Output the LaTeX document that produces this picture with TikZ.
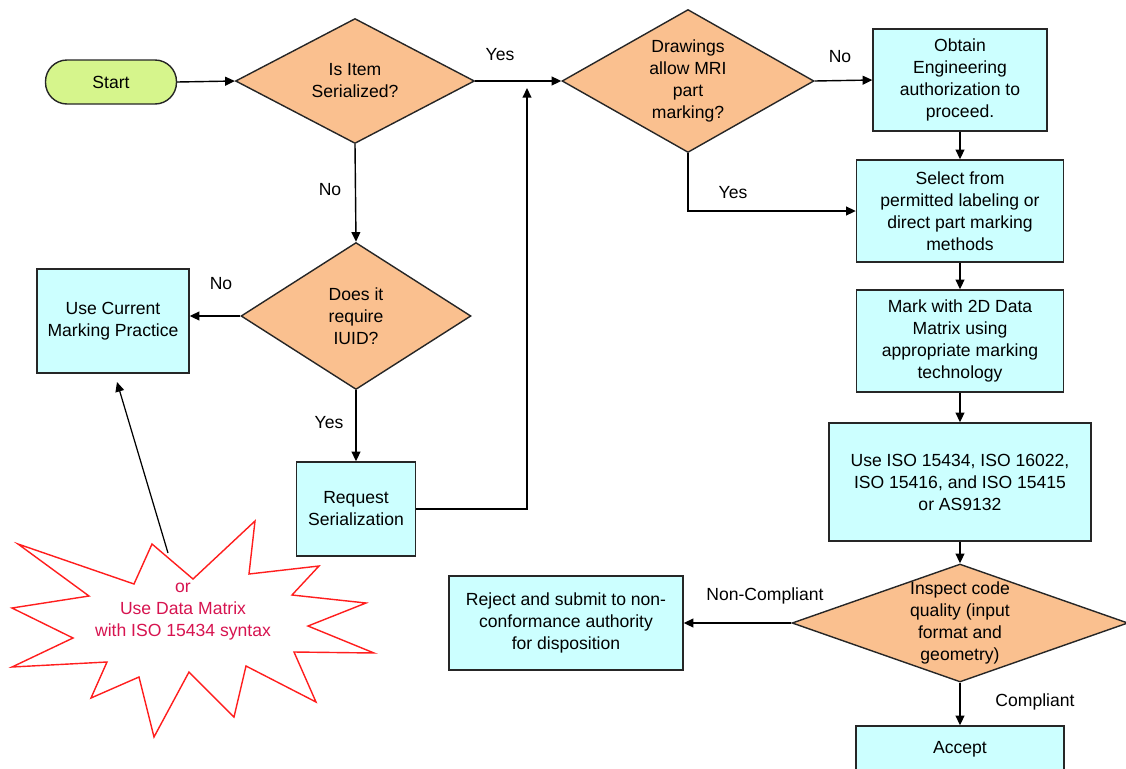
\documentclass[tikz,border=0pt]{standalone}
\usepackage{fontspec}
\setmainfont{Liberation Sans}
\usepackage{tikz}
\usetikzlibrary{shapes.geometric,arrows.meta}
\definecolor{decfill}{RGB}{250,192,143}
\definecolor{boxfill}{RGB}{204,255,255}
\definecolor{startfill}{RGB}{214,245,140}
\definecolor{burstred}{RGB}{255,30,30}
\definecolor{bursttext}{RGB}{215,20,80}
\tikzset{
    flow/.style={draw=black!85, line width=0.8pt, font=\fontsize{10}{12.5}\selectfont, align=center},
    proc/.style={flow, rectangle, fill=boxfill, inner sep=1pt},
    dec/.style={flow, diamond, aspect=1.8, fill=decfill, inner sep=0pt},
    term/.style={flow, rectangle, rounded corners=0.43cm, fill=startfill},
    arr/.style={line width=0.8pt, -{Triangle[length=5.5pt,width=5pt]}},
    lbl/.style={font=\fontsize{10}{12.5}\selectfont, align=center},
}

\begin{document}
\begin{tikzpicture}[x=0.02cm, y=-0.02cm]
    \useasboundingbox (0,0) rectangle (1126,768);

    \node[term, minimum width=2.62cm, minimum height=0.88cm] (start) at (111,82) {Start};
    \node[dec, minimum width=4.78cm, minimum height=2.5cm] (serial) at (355,81) {Is Item\\Serialized?};
    \node[dec, minimum width=4.6cm, minimum height=2.94cm] (iuid) at (356,316) {Does it\\require\\IUID?};
    \node[proc, minimum width=3.04cm, minimum height=2.08cm] (current) at (113,321) {Use Current\\Marking Practice};
    \node[proc, minimum width=2.38cm, minimum height=1.88cm] (request) at (356,509) {Request\\Serialization};
    \node[dec, minimum width=5.04cm, minimum height=2.86cm] (drawings) at (688,81) {Drawings\\allow MRI\\part\\marking?};
    \node[proc, minimum width=3.48cm, minimum height=2.04cm] (obtain) at (960,80) {Obtain\\Engineering\\authorization to\\proceed.};
    \node[proc, minimum width=4.14cm, minimum height=2.04cm] (select) at (960,211) {Select from\\permitted labeling or\\direct part marking\\methods};
    \node[proc, minimum width=4.14cm, minimum height=2.04cm] (mark) at (960,341) {Mark with 2D Data\\Matrix using\\appropriate marking\\technology};
    \node[proc, minimum width=5.24cm, minimum height=2.36cm] (iso) at (960,482) {Use ISO 15434, ISO 16022,\\ISO 15416, and ISO 15415\\or AS9132};
    \node[dec, minimum width=6.72cm, minimum height=2.36cm,
          label={[lbl]center:Inspect code\\quality (input\\format and\\geometry)}] (check) at (960,623) {};
    \node[proc, minimum width=4.68cm, minimum height=1.88cm] (reject) at (566,623) {Reject and submit to non-\\conformance authority\\for disposition};
    \node[proc, minimum width=4.16cm, minimum height=0.92cm] (accept) at (960,749) {Accept};

    \draw[burstred, fill=white, line width=0.8pt]
        (18,544) -- (134,584) -- (152,544) -- (193,579) -- (255,521) -- (249,574)
        -- (319,566) -- (292,595) -- (366,603) -- (308,626) -- (374,653) -- (294,652)
        -- (316,702) -- (246,666) -- (234,717) -- (189,672) -- (154,737) -- (139,677)
        -- (91,698) -- (107,662) -- (12,667) -- (73,638) -- (12,608) -- (89,596) -- cycle;
    \node[lbl, text=bursttext] (burst) at (183,612) {or\\Use Data Matrix\\with ISO 15434 syntax};

    \coordinate (returnTip) at (527,88);
    \coordinate (burstTop) at (168,553);
    \coordinate (currentTip) at (117,382);

    \draw[arr] (start.east) -- (serial.west);
    \draw[arr] (serial.east) -- (drawings.west);
    \draw[arr] (serial.south) -- (iuid.north);
    \draw[arr] (iuid.west) -- (iuid.west -| current.east);
    \draw[arr] (iuid.south) -- (request.north);
    \draw[arr] (request.east) -| (returnTip);
    \draw[arr] (drawings.east) -- (obtain.west);
    \draw[arr] (drawings.south) |- (select.west);
    \draw[arr] (obtain.south) -- (select.north);
    \draw[arr] (select.south) -- (mark.north);
    \draw[arr] (mark.south) -- (iso.north);
    \draw[arr] (iso.south) -- (check.north);
    \draw[arr] (check.west) -- (reject.east);
    \draw[arr] (check.south) -- (accept.north);
    \draw[arr, line width=0.7pt] (burstTop) -- (currentTip);

    \node[lbl] (yesSerial) at (500,55) {Yes};
    \node[lbl] (noSerial) at (330,190) {No};
    \node[lbl] (noIuid) at (221,284) {No};
    \node[lbl] (yesIuid) at (329,423) {Yes};
    \node[lbl] (noDrawings) at (840,57) {No};
    \node[lbl] (yesDrawings) at (733,193) {Yes};
    \node[lbl] (nonCompliant) at (765,596) {Non-Compliant};
    \node[lbl] (compliant) at (1035,702) {Compliant};
\end{tikzpicture}
\end{document}
